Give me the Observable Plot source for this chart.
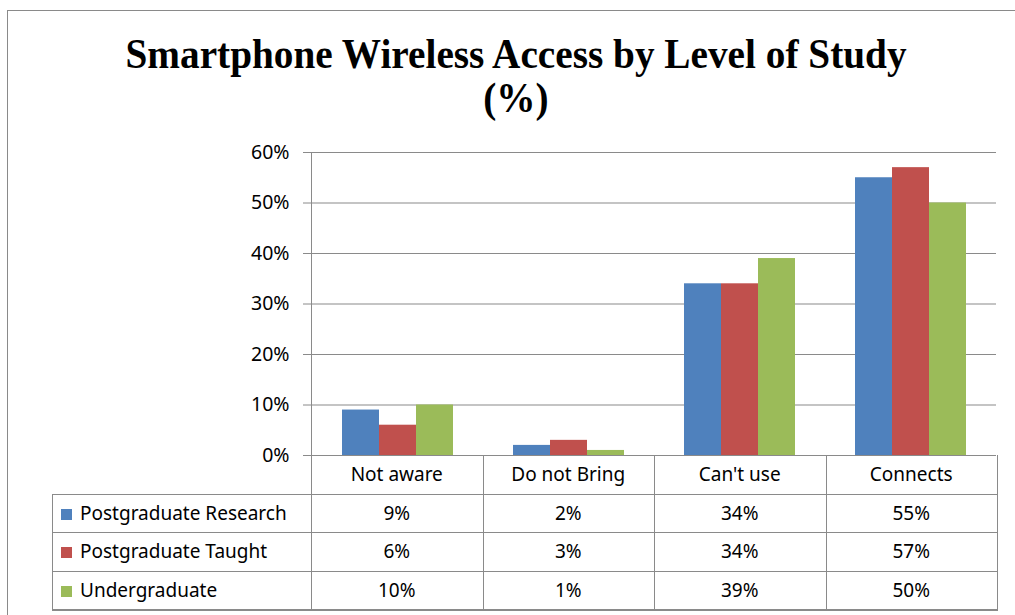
<!DOCTYPE html>
<html>
<head>
<meta charset="utf-8">
<script src="https://cdn.jsdelivr.net/npm/d3@7"></script>
<script src="https://cdn.jsdelivr.net/npm/@observablehq/plot@0.6"></script>
<style>
  html, body { margin: 0; padding: 0; background: #fff; }
  #wrap { position: relative; width: 1015px; height: 615px; overflow: hidden; font-family: "Noto Sans", sans-serif; }
  #frame { position: absolute; left: 7px; top: 10px; width: 1030px; height: 640px; border: 1.5px solid #8a8a8a; }
  #title { position: absolute; left: 0; width: 1032px; top: 32px; text-align: center;
           font-family: "Liberation Serif", serif; font-weight: bold; font-size: 42px; line-height: 44px; color: #000;
           transform: scaleX(0.935); transform-origin: 516px 0; }
  #chart { position: absolute; left: 0; top: 130px; }
  .ln { position: absolute; background: #8a8a8a; }
  .cell { position: absolute; font-size: 19px; color: #000; line-height: 38px; white-space: nowrap; }
  .sw { display: inline-block; width: 11px; height: 11px; margin-right: 8px; vertical-align: 0px; }
</style>
</head>
<body>
<div id="wrap">
  <div id="frame"></div>
  <div id="title">Smartphone Wireless Access by Level of Study<br>(%)</div>
  <div id="chart"></div>
  <div id="table"></div>
</div>
<script>
const categories = ["Not aware", "Do not Bring", "Can't use", "Connects"];
const series = ["Postgraduate Research", "Postgraduate Taught", "Undergraduate"];
const colors = ["#4F81BD", "#C0504D", "#9BBB59"];
const postgradResearch = [0.09, 0.02, 0.34, 0.55];
const postgradTaught = [0.06, 0.03, 0.34, 0.57];
const undergraduate = [0.10, 0.01, 0.39, 0.50];
const yTicks = [0, 0.1, 0.2, 0.3, 0.4, 0.5, 0.6];

const seriesValues = [postgradResearch, postgradTaught, undergraduate];
const data = [];
series.forEach((s, i) => categories.forEach((c, j) => data.push({category: c, series: s, value: seriesValues[i][j]})));
const pct = d => Math.round(d * 100) + "%";

const W = 1015, ML = 311, MR = 18, MT = 22, H = 340, MB = 15;
const chart = Plot.plot({
  width: W, height: H,
  marginLeft: ML, marginRight: MR, marginTop: MT, marginBottom: MB,
  style: {fontFamily: "Noto Sans, sans-serif", fontSize: "19px", color: "#000", overflow: "visible"},
  fx: {domain: categories, padding: 0, axis: null, label: null},
  x: {domain: series, paddingInner: 0, paddingOuter: 0.757, axis: null, label: null},
  y: {domain: [0, 0.6], axis: null, label: null},
  color: {domain: series, range: colors},
  marks: [
    Plot.gridY(yTicks, {stroke: "#8a8a8a", strokeOpacity: 1, strokeWidth: 1.2}),
    Plot.axisY(yTicks, {tickFormat: pct, tickSize: 9, tickPadding: 14, stroke: "#8a8a8a", fill: "#000", fontSize: "19.5px", label: null}),
    Plot.barY(data, {fx: "category", x: "series", y: "value", fill: "series", inset: 0})
  ]
});
document.getElementById("chart").appendChild(chart);

// data table below the plot (Excel-style)
const tbl = document.getElementById("table");
const colL = ML, colR = W - MR, step = (colR - colL) / categories.length;
const y0 = 130 + H - MB; // zero line
const rowH = 38.6;
const legL = 52;
function line(x, y, w, h) { const d = document.createElement("div"); d.className = "ln"; Object.assign(d.style, {left: x + "px", top: y + "px", width: w + "px", height: h + "px"}); tbl.appendChild(d); }
function cell(html, x, y, w, align) { const d = document.createElement("div"); d.className = "cell"; Object.assign(d.style, {left: x + "px", top: y + "px", width: w + "px", textAlign: align, height: rowH + "px"}); d.innerHTML = html; tbl.appendChild(d); }
// y-axis line
line(colL, 130 + MT, 1.2, y0 - (130 + MT) + rowH * 4);
// vertical column lines
for (let k = 1; k <= categories.length; k++) line(colL + k * step, y0, 1.2, rowH * 4);
line(legL, y0 + rowH, 1.2, rowH * 3);
// horizontal lines
for (let r = 1; r <= 4; r++) line(legL, y0 + r * rowH, colR - legL + 1, 1.2);
// header
categories.forEach((c, j) => cell(c, colL + j * step, y0, step, "center"));
series.forEach((s, i) => {
  const y = y0 + (i + 1) * rowH;
  cell(`<span class="sw" style="background:${colors[i]}"></span>${s}`, legL + 9, y, colL - legL - 9, "left");
  seriesValues[i].forEach((v, j) => cell(pct(v), colL + j * step, y, step, "center"));
});
</script>
</body>
</html>
